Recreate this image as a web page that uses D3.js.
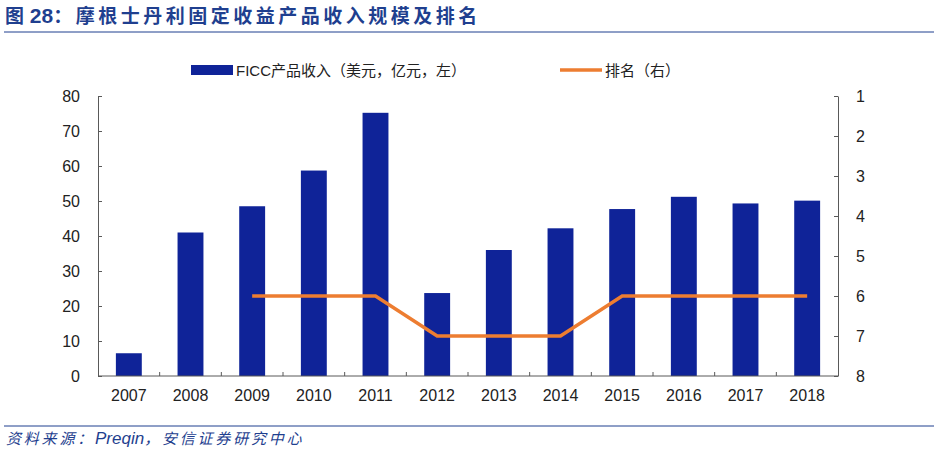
<!DOCTYPE html>
<html><head><meta charset="utf-8">
<script src="https://cdn.jsdelivr.net/npm/d3@7"></script>
<style>body{margin:0;background:#fff;}svg{display:block;font-family:Arial,"Liberation Sans","Noto Sans CJK SC",sans-serif;}</style>
</head><body>
<svg id="c" width="938" height="454"></svg>
<script>
const categories = ["2007","2008","2009","2010","2011","2012","2013","2014","2015","2016","2017","2018"];
const revenue = [6.5,41,48.5,58.7,75.2,23.7,36,42.2,47.7,51.2,49.3,50.1];
const rank = [null,null,6,6,6,7,7,7,6,6,6,6];
const leftTicks = [0,10,20,30,40,50,60,70,80];
const rightTicks = [1,2,3,4,5,6,7,8];

const svg = d3.select("#c");
const m = {l:98, r:838, t:96, b:376};
const x = d3.scaleBand().domain(categories).range([m.l, m.r]).paddingInner(0.58).paddingOuter(0.29);
const xo = d3.scaleBand().domain(categories).range([m.l, m.r]);
const yL = d3.scaleLinear().domain([0,80]).range([m.b, m.t]);
const yR = d3.scaleLinear().domain([1,8]).range([m.t, m.b]);

const CJK = "'Noto Sans CJK SC',sans-serif";
const LAT = "Arial,'Liberation Sans',sans-serif";
// title
const tt = svg.append("text").attr("x",5).attr("y",23).attr("fill","#1f3f8f").attr("font-weight","bold");
tt.append("tspan").attr("font-family",CJK).attr("font-size",19).text("图");
tt.append("tspan").attr("font-family",LAT).attr("font-size",21).text(" 28");
tt.append("tspan").attr("font-family",CJK).attr("font-size",19).attr("letter-spacing",3.5).text("：摩根士丹利固定收益产品收入规模及排名");
svg.append("line").attr("x1",4).attr("x2",934).attr("y1",32).attr("y2",32).attr("stroke","#1f3f8f").attr("stroke-width",1);
// footer
svg.append("line").attr("x1",4).attr("x2",934).attr("y1",426).attr("y2",426).attr("stroke","#1f3f8f").attr("stroke-width",1);
const ft = svg.append("text").attr("x",6).attr("y",444).attr("fill","#1f3f8f").attr("font-style","italic");
ft.append("tspan").attr("font-family",CJK).attr("font-size",15).attr("letter-spacing",2.8).text("资料来源：");
ft.append("tspan").attr("font-family",LAT).attr("font-size",17).text("Preqin");
ft.append("tspan").attr("font-family",CJK).attr("font-size",15).attr("letter-spacing",2.8).text("，安信证券研究中心");

// bars
svg.append("g").selectAll("rect").data(categories).join("rect")
  .attr("x",d=>x(d)).attr("width",x.bandwidth())
  .attr("y",(d,i)=>yL(revenue[i])).attr("height",(d,i)=>yL(0)-yL(revenue[i]))
  .attr("fill","#0f2398");

// line
const line = d3.line().defined(d=>d.v!=null).x(d=>xo(d.c)+xo.bandwidth()/2).y(d=>yR(d.v));
svg.append("path").datum(categories.map((c,i)=>({c,v:rank[i]})))
  .attr("d",line).attr("fill","none").attr("stroke","#ed7d31").attr("stroke-width",3.5);

// axes
const axisStyle = g=>{g.selectAll("path,line").attr("stroke","#595959");g.selectAll("text").attr("fill","#222").attr("font-size",16).attr("font-family",LAT);};
svg.append("g").attr("transform",`translate(${m.l},0)`)
  .call(d3.axisLeft(yL).tickValues(leftTicks).tickSize(-4).tickPadding(18).tickSizeOuter(0)).call(axisStyle);
svg.append("g").attr("transform",`translate(${m.r},0)`)
  .call(d3.axisRight(yR).tickValues(rightTicks).tickFormat(d3.format("d")).tickSize(-4).tickPadding(18).tickSizeOuter(0)).call(axisStyle);
const xg = svg.append("g").attr("transform",`translate(0,${m.b})`)
  .call(d3.axisBottom(xo).tickSize(0).tickPadding(14)).call(axisStyle);
xg.select(".domain").attr("d",`M${m.l},0H${m.r}`);
xg.selectAll(".sep").data(categories.slice(1)).join("line").attr("class","sep")
  .attr("x1",d=>xo(d)).attr("x2",d=>xo(d)).attr("y1",0).attr("y2",-4).attr("stroke","#595959");

// legend
const lg = svg.append("g").attr("font-size",15).attr("font-family","Arial,'Noto Sans CJK SC',sans-serif");
lg.append("rect").attr("x",191).attr("y",65).attr("width",42).attr("height",10).attr("fill","#0f2398");
lg.append("text").attr("x",236).attr("y",76).attr("fill","#222").text("FICC产品收入（美元，亿元，左）");
lg.append("line").attr("x1",560).attr("x2",602).attr("y1",70).attr("y2",70).attr("stroke","#ed7d31").attr("stroke-width",3.5);
lg.append("text").attr("x",605).attr("y",76).attr("fill","#222").text("排名（右）");
</script>
</body></html>
